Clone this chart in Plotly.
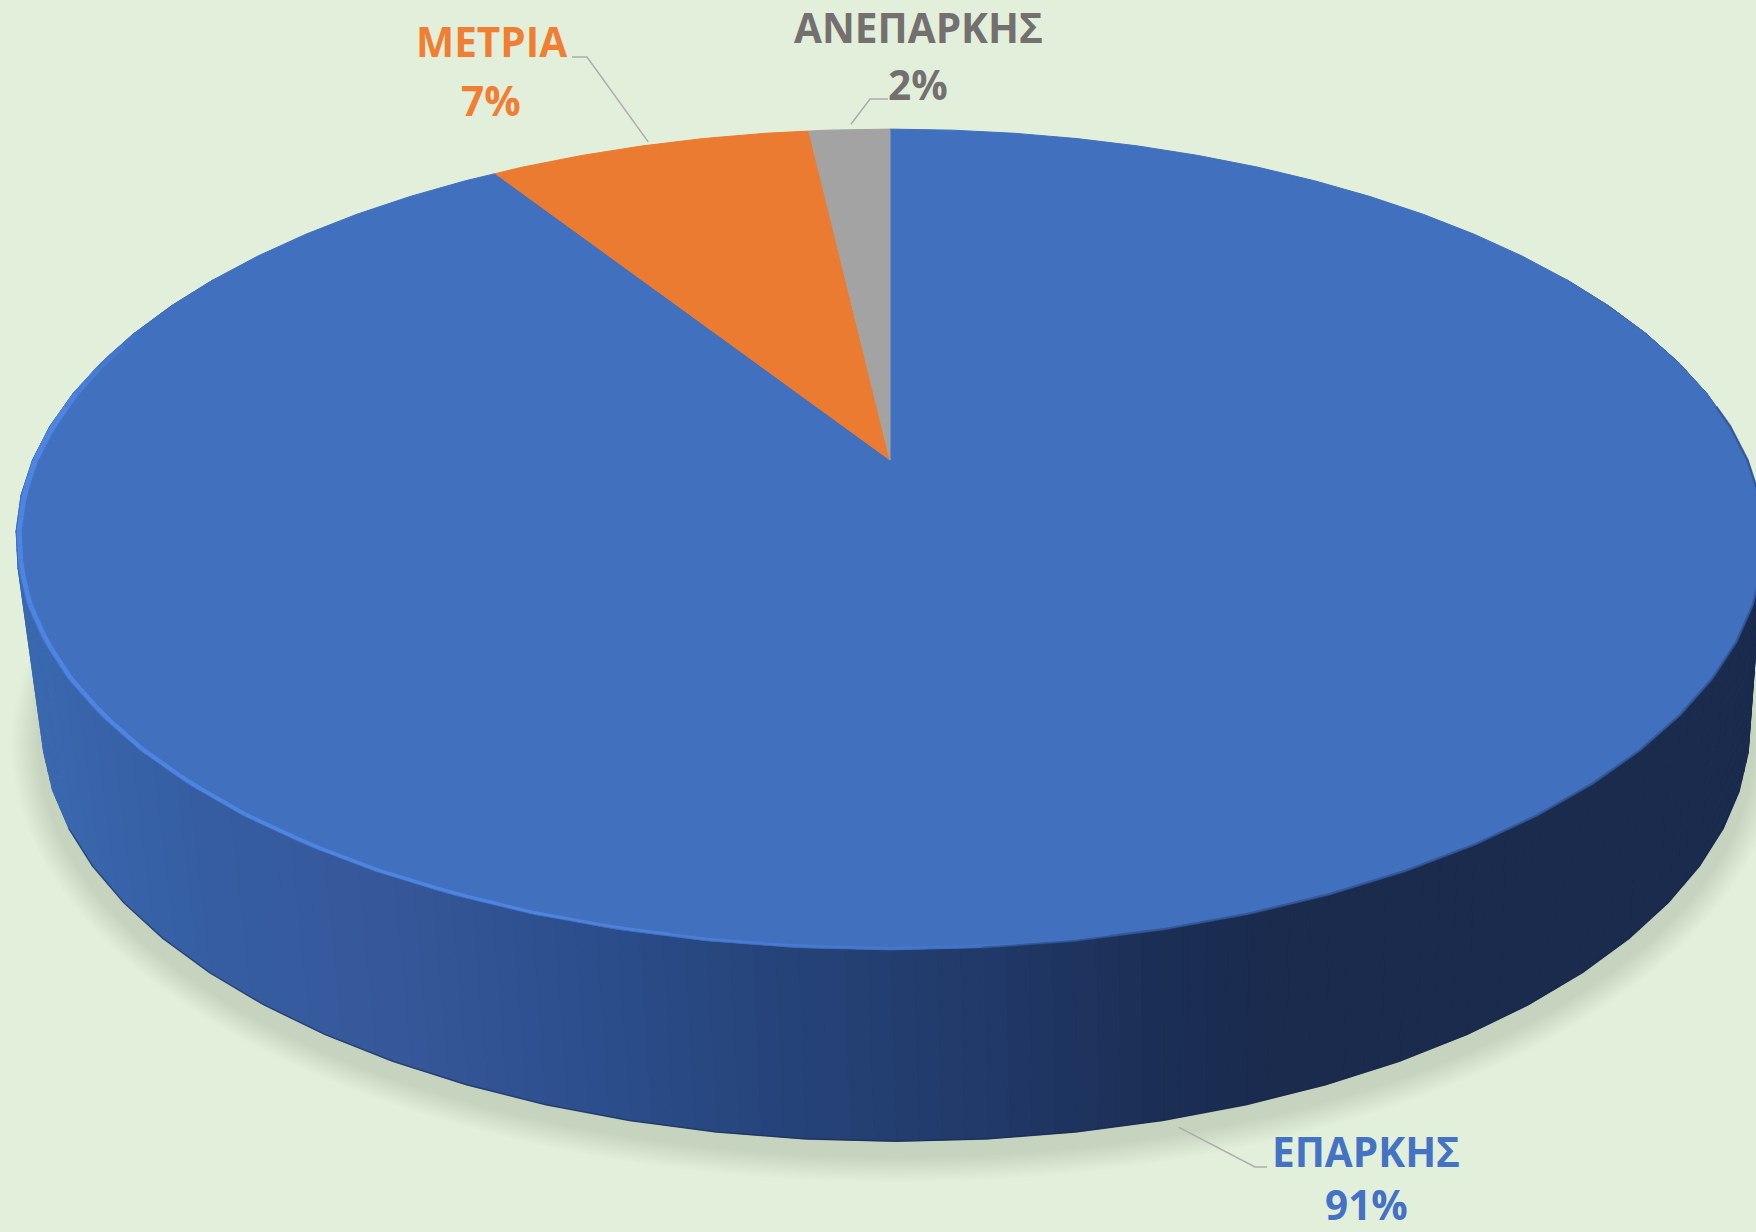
import numpy as np
import plotly.graph_objects as go

# ---- data ----
categories = ["ΕΠΑΡΚΗΣ", "ΜΕΤΡΙΑ", "ΑΝΕΠΑΡΚΗΣ"]
values = [91.0, 7.2, 1.8]
slice_colors = ["#4170BF", "#EA7B30", "#A3A3A3"]
text_colors = ["#4472C4", "#F07F33", "#757070"]
label_centers = [(1366, 1151, 1204), (491, 41, 100), (918, 27, 84)]
leader_elbows = [((1255, 1167), (1267, 1167)), ((587, 57), (572, 57)), ((870, 99), (888, 99))]
leader_nudge = [(-9, 3), (2, 0), (2, -2)]

# side-wall shading across the picture
shade_x = [30, 200, 400, 600, 800, 1000, 1150, 1280, 1760]
shade_rgb = [(59, 105, 176), (54, 94, 163), (54, 88, 154), (44, 78, 140), (38, 67, 120),
             (33, 57, 104), (28, 47, 86), (26, 43, 78), (26, 43, 78)]

BG = "#E2EFDA"
K = 0.1937
TOP = dict(cx=890, y0=460, a=857.5, b=395)
BOT = dict(cx=896, y0=644, a=838, b=401)
FACET = 5


def project(theta_deg, disc, r=1.0):
    t = np.radians(theta_deg)
    u, v = r * np.sin(t), r * np.cos(t)
    w = 1 + K * v
    return disc["cx"] + disc["a"] * u / w, disc["y0"] - disc["b"] * v / w


FACET_GRID = np.arange(0, 360 + FACET, FACET)


def faceted(theta_deg, disc):
    """Point on the disc's many-sided outline, as the drawn pie has straight facets."""
    gx, gy = project(FACET_GRID, disc)
    return np.interp(theta_deg, FACET_GRID, gx), np.interp(theta_deg, FACET_GRID, gy)


def arc_angles(a0, a1, step=FACET):
    inner = np.arange(np.ceil(a0 / step) * step, a1, step)
    return np.unique(np.concatenate([[a0], inner, [a1]]))


fig = go.Figure()


def poly(xs, ys, color, line=None):
    fig.add_trace(go.Scatter(x=list(xs), y=list(ys), mode="lines", fill="toself", fillcolor=color,
                             line=dict(color=line or color, width=1 if line else 0),
                             hoverinfo="skip", showlegend=False))


def seg(xs, ys, color, width):
    fig.add_trace(go.Scatter(x=list(xs), y=list(ys), mode="lines",
                             line=dict(color=color, width=width),
                             hoverinfo="skip", showlegend=False))


# soft ground shadow
n_shadow = 14
th = np.arange(0, 361, 3)
for i in range(n_shadow):
    f = i / (n_shadow - 1)
    sx, sy = 884 - 26 * f, 437 - 24 * f
    t = np.radians(th)
    poly(BOT["cx"] + sx * np.sin(t), 745 - sy * np.cos(t), "rgba(95,105,85,0.0118)")

# side wall
edges = np.arange(60, 301, 1.25)
for a0, a1 in zip(edges[:-1], edges[1:]):
    x0t, y0t = faceted(a0, TOP)
    x1t, y1t = faceted(a1, TOP)
    x0b, y0b = faceted(a0, BOT)
    x1b, y1b = faceted(a1, BOT)
    xm = (x0t + x1t + x0b + x1b) / 4
    rgb = [np.interp(xm, shade_x, [c[i] for c in shade_rgb]) for i in range(3)]
    col = "rgb(%d,%d,%d)" % tuple(rgb)
    poly([x0t, x1t, x1b, x0b, x0t], [y0t, y1t, y1b, y0b, y0t], col, line=col)

# dark bottom seam
ang = arc_angles(110, 245)
bx, by = faceted(ang, BOT)
seg(bx, by, "rgba(20,35,70,0.5)", 1.5)

# top face wedges, clockwise from twelve o'clock
total = sum(values)
start = 0.0
mids = []
for val, col in zip(values, slice_colors):
    end = start + 360 * val / total
    ang = arc_angles(start, end)
    ax, ay = faceted(ang, TOP)
    px, py = project(0, TOP, r=0)
    poly(np.r_[px, ax, px], np.r_[py, ay, py], col, line=col)
    mids.append((start + end) / 2)
    start = end

# soft dark edge on the lower right of the top face
ang = arc_angles(82, 175)
ex, ey = faceted(ang, TOP)
seg(ex, ey, "rgba(45,80,140,0.7)", 2.5)

# light rim on the lower left, hugging the edge
rim = arc_angles(168, 290, step=2)
rx, ry = faceted(rim, TOP)
hi = np.array([78, 133, 226])
base = np.array([65, 112, 191])
apex_x, apex_y = project(0, TOP, r=0)
rx = apex_x + (rx - apex_x) * 0.9965
ry = apex_y + (ry - apex_y) * 0.9965
for i in range(len(rim) - 1):
    a = rim[i]
    t = np.clip((a - 168) / 30, 0, 1) * np.clip((290 - a) / 14, 0, 1)
    c = base + (hi - base) * t
    width = 2.0 + 3.5 * np.clip((a - 170) / 100, 0, 1)
    seg(rx[i:i + 2], ry[i:i + 2], "rgb(%d,%d,%d)" % tuple(c), width)

# leader lines: start at each slice's middle, on its visible rim
for idx, (mid, elbow, nudge) in enumerate(zip(mids, leader_elbows, leader_nudge)):
    disc = BOT if idx == 0 else TOP
    sx0, sy0 = project(mid, disc, r=1.012)
    seg([sx0 + nudge[0], elbow[0][0], elbow[1][0]], [sy0 + nudge[1], elbow[0][1], elbow[1][1]], "#AEADAD", 1.5)

# labels
for cat, val, col, (lx, ly1, ly2) in zip(categories, values, text_colors, label_centers):
    fig.add_annotation(x=lx, y=ly1, text=cat, showarrow=False, xanchor="center", yanchor="middle",
                       font=dict(family="Open Sans", size=40.5, color=col, weight=700))
    fig.add_annotation(x=lx, y=ly2, text=f"{round(val)}%", showarrow=False, xanchor="center", yanchor="middle",
                       font=dict(family="Open Sans", size=40.5, color=col, weight=700))

fig.update_layout(
    width=1756, height=1232, margin=dict(l=0, r=0, t=0, b=0),
    paper_bgcolor=BG, plot_bgcolor=BG, showlegend=False,
    xaxis=dict(range=[0, 1756], visible=False, fixedrange=True),
    yaxis=dict(range=[1232, 0], visible=False, fixedrange=True),
)
fig.write_html("out.html", config={"displayModeBar": False},
               post_script="document.body.style.margin='0';document.body.style.overflow='hidden';")
